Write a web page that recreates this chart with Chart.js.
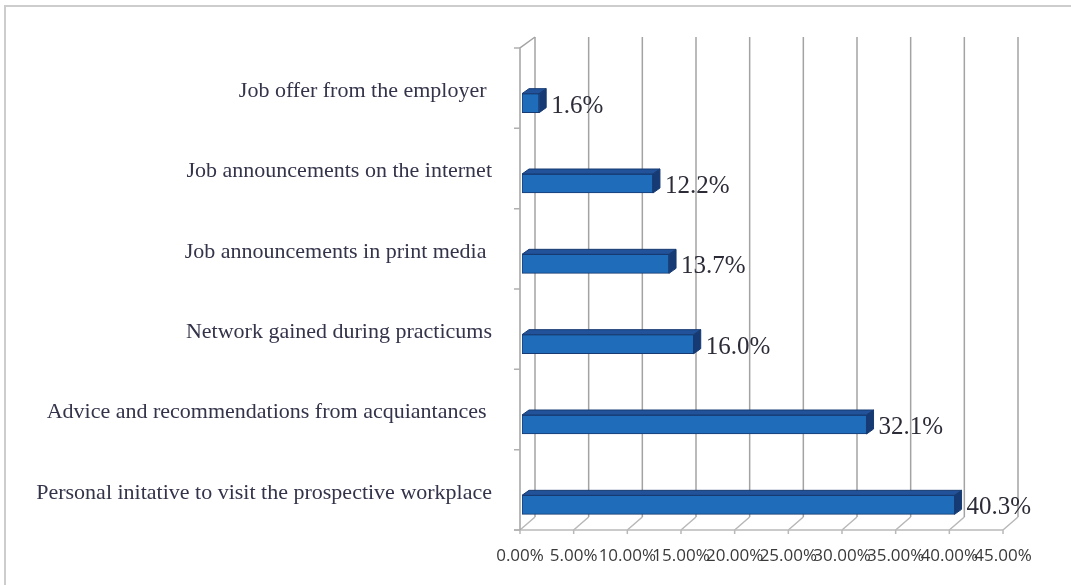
<!DOCTYPE html>
<html>
<head>
<meta charset="utf-8">
<script src="https://cdn.jsdelivr.net/npm/chart.js@4/dist/chart.umd.min.js"></script>
<style>
  html, body { margin: 0; padding: 0; background: #fff; overflow: hidden; }
  #frame {
    position: absolute; left: 4px; top: 5px; width: 1100px; height: 620px;
    border: 2px solid #cdcdcd; box-sizing: border-box;
  }
  #chart { position: absolute; left: 0; top: 0; }
</style>
</head>
<body>
<div id="frame"></div>
<canvas id="chart" width="1071" height="585"></canvas>
<script>
// ============================================================
// DATA
// ============================================================

const categories = [
  "Job offer from the employer ",
  "Job announcements on the internet",
  "Job announcements in print media ",
  "Network gained during practicums",
  "Advice and recommendations from acquiantances ",
  "Personal initative to visit the prospective workplace"
];

const shares = [1.6, 12.2, 13.7, 16.0, 32.1, 40.3];

const axisMin = 0;
const axisMax = 45;
const axisStep = 5;

// ============================================================
// 3D LOOK (walls, floor, bar bevels, value labels)
// ============================================================

const DEPTH_X = 15;   // wall depth
const DEPTH_Y = 12;
const BAR_DX = 7;     // bar bevel depth
const BAR_DY = 5;
const BAR_SHIFT_X = 2;
const BAR_SHIFT_Y = 15;

const threeD = {
  id: "threeD",
  beforeDatasetsDraw(chart) {
    const ctx = chart.ctx;
    const area = chart.chartArea;
    const xs = chart.scales.x;

    ctx.save();
    ctx.lineWidth = 1.5;

    // back wall gridlines + floor diagonals + ticks
    for (let v = axisMin; v <= axisMax; v += axisStep) {
      const xf = xs.getPixelForValue(v);
      ctx.strokeStyle = "#a3a3a3";
      ctx.beginPath();
      ctx.moveTo(xf + DEPTH_X, area.top - 11);
      ctx.lineTo(xf + DEPTH_X, area.bottom - DEPTH_Y - 1);
      ctx.stroke();

      ctx.strokeStyle = "#b8b8b8";
      ctx.beginPath();
      ctx.moveTo(xf, area.bottom);
      ctx.lineTo(xf + DEPTH_X, area.bottom - DEPTH_Y - 1);
      ctx.moveTo(xf, area.bottom);
      ctx.lineTo(xf, area.bottom + 4);
      ctx.stroke();
    }

    // floor front edge
    ctx.strokeStyle = "#b8b8b8";
    ctx.beginPath();
    ctx.moveTo(area.left - 6, area.bottom);
    ctx.lineTo(xs.getPixelForValue(axisMax), area.bottom);
    ctx.stroke();

    // left wall
    ctx.strokeStyle = "#a3a3a3";
    ctx.beginPath();
    ctx.moveTo(area.left, area.bottom);
    ctx.lineTo(area.left, area.top);
    ctx.lineTo(area.left + DEPTH_X, area.top - 11);
    ctx.stroke();

    const band = (area.bottom - area.top) / categories.length;
    ctx.strokeStyle = "#b0b0b0";
    ctx.beginPath();
    for (let i = 0; i <= categories.length; i++) {
      const y = area.top + i * band;
      ctx.moveTo(area.left - 6, y);
      ctx.lineTo(area.left, y);
    }
    ctx.stroke();
    ctx.restore();

    // bars are drawn a little lower, on the floor plane
    ctx.save();
    ctx.translate(BAR_SHIFT_X, BAR_SHIFT_Y);
  },
  afterDatasetsDraw(chart) {
    const ctx = chart.ctx;
    const meta = chart.getDatasetMeta(0);

    meta.data.forEach(function(bar, i) {
      const top = bar.y - bar.height / 2;
      const bottom = bar.y + bar.height / 2;
      const left = bar.base;
      const right = bar.x;

      ctx.lineWidth = 1;
      ctx.strokeStyle = "#173a72";

      // top face
      ctx.fillStyle = "#21529a";
      ctx.beginPath();
      ctx.moveTo(left, top);
      ctx.lineTo(left + BAR_DX, top - BAR_DY);
      ctx.lineTo(right + BAR_DX, top - BAR_DY);
      ctx.lineTo(right, top);
      ctx.closePath();
      ctx.fill();
      ctx.stroke();

      // side face
      ctx.fillStyle = "#163a73";
      ctx.beginPath();
      ctx.moveTo(right, top);
      ctx.lineTo(right + BAR_DX, top - BAR_DY);
      ctx.lineTo(right + BAR_DX, bottom - BAR_DY);
      ctx.lineTo(right, bottom);
      ctx.closePath();
      ctx.fill();
      ctx.stroke();

      // value label
      ctx.fillStyle = "#2c2c38";
      ctx.font = "25px 'Liberation Serif'";
      ctx.textAlign = "left";
      ctx.textBaseline = "middle";
      ctx.fillText(shares[i].toFixed(1) + "%", right + BAR_DX + 5, bar.y + 3);
    });

    ctx.restore();
  }
};

// ============================================================
// CHART.JS
// ============================================================

const ctx = document.getElementById("chart").getContext("2d");

const shareChart = new Chart(ctx, {
  type: "bar",
  data: {
    labels: categories,
    datasets: [
      {
        data: shares,
        backgroundColor: "#1e6cba",
        borderColor: "#173a72",
        borderWidth: 1,
        borderSkipped: false,
        barThickness: 19
      }
    ]
  },
  options: {
    indexAxis: "y",
    responsive: false,
    animation: false,
    devicePixelRatio: 1,
    layout: {
      padding: { top: 48, right: 68, bottom: 0, left: 0 }
    },
    plugins: {
      legend: { display: false },
      tooltip: { enabled: false }
    },
    scales: {
      x: {
        min: axisMin,
        max: axisMax,
        grid: { display: false },
        border: { display: false },
        afterFit: function(scale) {
          scale.height = 55;
        },
        ticks: {
          stepSize: axisStep,
          autoSkip: false,
          maxRotation: 0,
          padding: 8,
          color: "#3a3a3a",
          font: { family: "Open Sans", size: 17 },
          callback: function(value) {
            return value.toFixed(2) + "%";
          }
        }
      },
      y: {
        grid: { display: false },
        border: { display: false },
        afterFit: function(scale) {
          scale.width = 520;
        },
        ticks: {
          padding: 20,
          labelOffset: 3,
          color: "#33334a",
          font: { family: "Liberation Serif", size: 22 }
        }
      }
    }
  },
  plugins: [threeD]
});
</script>
</body>
</html>
